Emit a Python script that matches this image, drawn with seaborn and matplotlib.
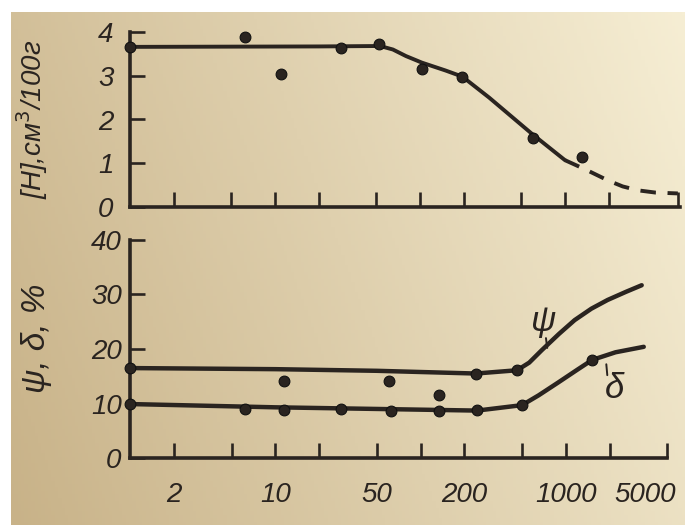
import numpy as np
import pandas as pd
import matplotlib
matplotlib.use("Agg")
import matplotlib.pyplot as plt
import matplotlib.transforms as mtransforms
import seaborn as sns

# ---------------- data ----------------
# upper panel: hydrogen content [H], cm3/100 g
h_pts_x = [1, 6.2, 11, 28.6, 52, 103, 196, 600, 1320]
h_pts_y = [3.66, 3.89, 3.05, 3.64, 3.73, 3.16, 2.98, 1.57, 1.14]
h_curve_x = [1, 20, 53, 65, 80, 103, 150, 196, 300, 588, 1000]
h_curve_y = [3.66, 3.67, 3.68, 3.6, 3.45, 3.3, 3.12, 2.98, 2.5, 1.68, 1.07]
h_dash_x = [1000, 1400, 2000, 2500, 3200, 4200, 6000]
h_dash_y = [1.07, 0.85, 0.6, 0.47, 0.38, 0.33, 0.31]

# lower panel: psi and delta, %
psi_pts_x = [1, 11.5, 61, 240, 462]
psi_pts_y = [16.5, 14.2, 14.2, 15.4, 16.1]
psi_curve_x = [1, 10, 50, 240, 462, 560, 684, 900, 1150, 1500, 1940, 2600, 3330]
psi_curve_y = [16.5, 16.3, 16.0, 15.5, 16.1, 17.5, 19.8, 22.8, 25.3, 27.4, 29.0, 30.5, 31.7]

delta_pts_x = [1, 6.2, 11.5, 28.5, 63, 133, 133, 245, 500, 1520]
delta_pts_y = [9.9, 9.0, 8.8, 9.0, 8.7, 8.6, 11.5, 8.8, 9.7, 18.0]
delta_curve_x = [1, 10, 50, 245, 500, 650, 880, 1200, 1520, 2200, 3440]
delta_curve_y = [9.9, 9.3, 9.0, 8.7, 9.7, 11.5, 13.8, 16.2, 18.0, 19.4, 20.4]

upper_ticks = [2, 5, 10, 20, 50, 100, 200, 500, 1000, 2000]
lower_ticks = [2, 5, 10, 20, 50, 100, 200, 500, 1000, 2000, 5000]
lower_tick_labels = ["2", "", "10", "", "50", "", "200", "", "1000", "", "5000"]

# ---------------- style ----------------
sns.set_theme(style="white")
ink = "#2a2420"
FONT = ["Liberation Sans", "DejaVu Sans"]
plt.rcParams["font.family"] = FONT

W, H = 685, 525
fig = plt.figure(figsize=(6.85, 5.25), dpi=100)
fig.patch.set_facecolor("white")

# paper background (photo of a page)
bg = fig.add_axes([11 / W, 0, 1 - 11 / W, 1 - 12 / H], zorder=-10)
gx = np.linspace(0, 1, 200)
gy = np.linspace(0, 1, 150)
GX, GY = np.meshgrid(gx, gy)
t = np.clip(0.78 * GX + 0.22 * (1 - GY), 0, 1)
dark = np.array([200, 178, 136]) / 255
light = np.array([246, 238, 212]) / 255
img = dark[None, None, :] * (1 - t[..., None]) + light[None, None, :] * t[..., None]
bg.imshow(img, aspect="auto", extent=[0, 1, 0, 1], origin="upper")
bg.axis("off")

px_per_dec = 145.0
x0 = 130
TICK_FS = 20

def make_ax(left_px, right_px, bottom_px, top_px):
    return fig.add_axes([left_px / W, (H - bottom_px) / H,
                         (right_px - left_px) / W, (bottom_px - top_px) / H])

# ---------------- upper panel ----------------
axu = make_ax(x0, 680, 207, 32)
axu.patch.set_alpha(0)
df_hc = pd.DataFrame({"x": h_curve_x, "y": h_curve_y})
df_hd = pd.DataFrame({"x": h_dash_x, "y": h_dash_y})
df_hp = pd.DataFrame({"x": h_pts_x, "y": h_pts_y})
sns.lineplot(data=df_hc, x="x", y="y", ax=axu, color=ink, lw=2.8, sort=False)
sns.lineplot(data=df_hd, x="x", y="y", ax=axu, color=ink, lw=2.8, sort=False,
             dashes=False, linestyle=(0, (4, 3)))
sns.scatterplot(data=df_hp, x="x", y="y", ax=axu, color=ink, s=60,
                edgecolor="#111", linewidth=0.8, zorder=5, clip_on=False)
axu.set_xscale("log")
axu.set_xlim(1, 10 ** (550 / px_per_dec))
axu.set_ylim(0, 4)
axu.set_xticks(upper_ticks + [10 ** (548 / px_per_dec)])
axu.set_xticklabels([])
axu.xaxis.set_minor_locator(matplotlib.ticker.NullLocator())
axu.set_yticks([0, 1, 2, 3, 4])
axu.set_yticklabels(["0", "1", "2", "3", "4"], fontstyle="italic", fontsize=TICK_FS)
axu.set_xlabel("")
axu.set_ylabel("[H],см$^{3}$/100г", fontstyle="italic", fontsize=20)
axu.yaxis.set_label_coords(-0.145, 0.5)

# ---------------- lower panel ----------------
axl = make_ax(x0, x0 + px_per_dec * np.log10(5000) + 1, 458, 240)
axl.patch.set_alpha(0)
df_pc = pd.DataFrame({"x": psi_curve_x, "y": psi_curve_y})
df_pp = pd.DataFrame({"x": psi_pts_x, "y": psi_pts_y})
df_dc = pd.DataFrame({"x": delta_curve_x, "y": delta_curve_y})
df_dp = pd.DataFrame({"x": delta_pts_x, "y": delta_pts_y})
sns.lineplot(data=df_pc, x="x", y="y", ax=axl, color=ink, lw=3.2, sort=False)
sns.lineplot(data=df_dc, x="x", y="y", ax=axl, color=ink, lw=3.2, sort=False)
sns.scatterplot(data=df_pp, x="x", y="y", ax=axl, color=ink, s=60,
                edgecolor="#111", linewidth=0.8, zorder=5, clip_on=False)
sns.scatterplot(data=df_dp, x="x", y="y", ax=axl, color=ink, s=60,
                edgecolor="#111", linewidth=0.8, zorder=5, clip_on=False)
axl.set_xscale("log")
axl.set_xlim(1, 5000)
axl.set_ylim(0, 40)
axl.set_xticks(lower_ticks)
axl.set_xticklabels(lower_tick_labels, fontstyle="italic", fontsize=TICK_FS)
axl.xaxis.set_minor_locator(matplotlib.ticker.NullLocator())
axl.set_yticks([0, 10, 20, 30, 40])
axl.set_yticklabels(["0", "10", "20", "30", "40"], fontstyle="italic", fontsize=TICK_FS)
axl.set_xlabel("")
axl.set_ylabel("ψ, δ, %", fontstyle="italic", fontsize=24)
axl.yaxis.set_label_coords(-0.145, 0.55)

# curve labels with short leaders
axl.text(700, 25.0, "ψ", fontsize=25, fontstyle="italic", color=ink,
         ha="center", va="center")
axl.plot([730, 745], [22.0, 20.2], color=ink, lw=1.4)
axl.text(2150, 12.8, "δ", fontsize=25, fontstyle="italic", color=ink,
         ha="center", va="center")
axl.plot([1900, 1930], [17.2, 15.2], color=ink, lw=1.4)

for ax, ypad in ((axu, 12), (axl, 6)):
    for side in ("top", "right"):
        ax.spines[side].set_visible(False)
    for side in ("left", "bottom"):
        ax.spines[side].set_color(ink)
        ax.spines[side].set_linewidth(2.6)
    ax.tick_params(axis="both", which="major", direction="in", length=11,
                   width=1.9, colors=ink, labelcolor=ink,
                   bottom=True, left=True, top=False, right=False)
    ax.tick_params(axis="y", pad=ypad)
    ax.tick_params(axis="x", pad=17)
    ax.grid(False)
    ax.yaxis.label.set_color(ink)

# the last x label sits a little left of its tick in the reference
last = axl.get_xticklabels()[-1]
last.set_transform(last.get_transform() +
                   mtransforms.ScaledTranslation(-22 / 100, 0, fig.dpi_scale_trans))

fig.savefig("out.png", dpi=100)
